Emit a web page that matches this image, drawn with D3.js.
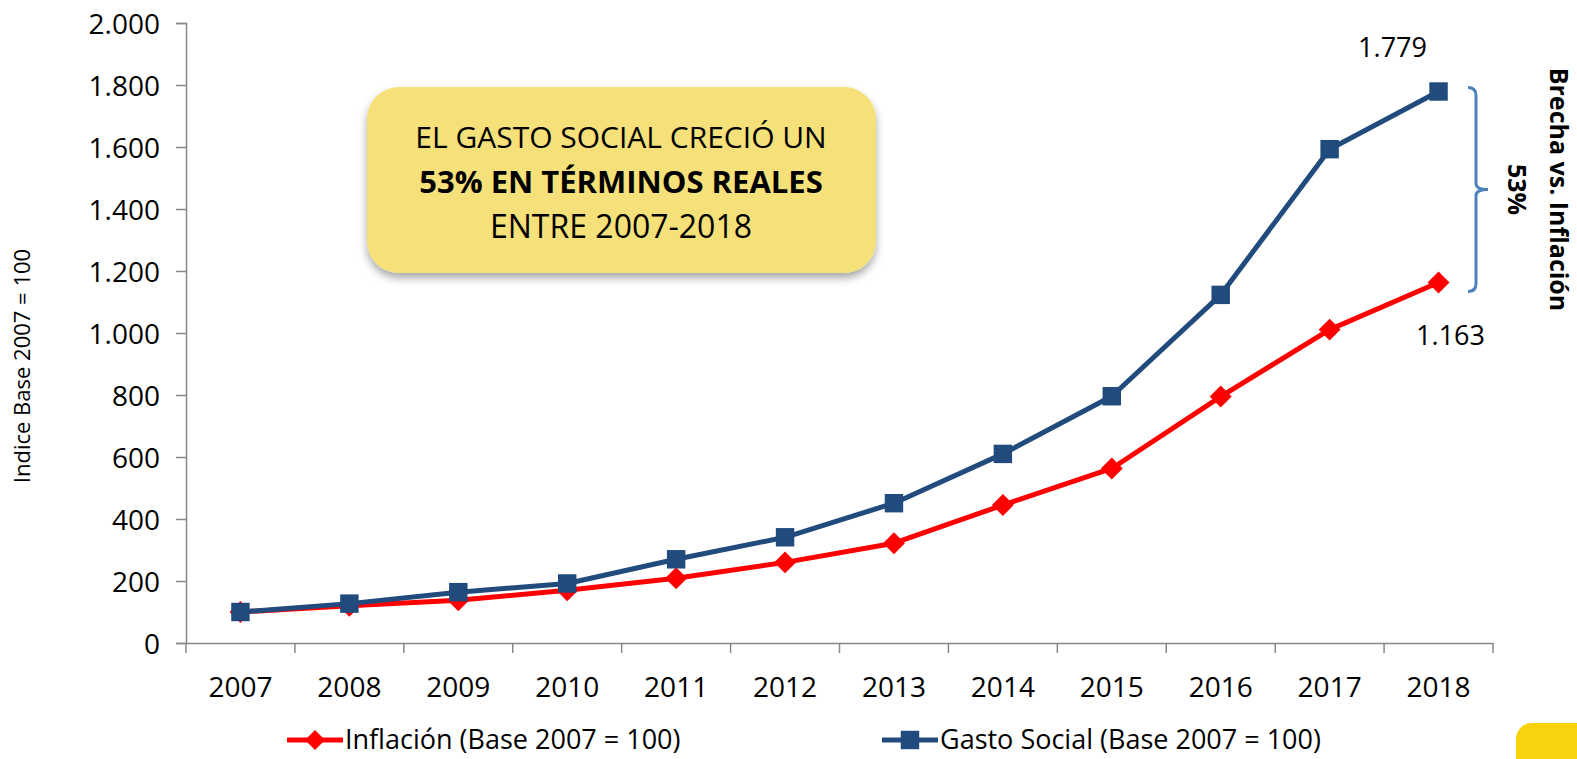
<!DOCTYPE html>
<html>
<head>
<meta charset="utf-8">
<script src="https://cdn.jsdelivr.net/npm/d3@7"></script>
<style>
  body { margin: 0; background: #fff; }
  svg text { font-family: "Open Sans", "Liberation Sans", sans-serif; fill: #000; }
</style>
</head>
<body>
<div class="canvas"></div>
<script>
const years = ['2007', '2008', '2009', '2010', '2011', '2012', '2013', '2014', '2015', '2016', '2017', '2018'];
const inflacion = [100, 120, 138, 170, 209, 260, 322, 445, 563, 795, 1011, 1163];
const gastoSocial = [100, 127, 164, 192, 270, 341, 451, 610, 796, 1123, 1593, 1779];
const yTicks = [0, 200, 400, 600, 800, 1000, 1200, 1400, 1600, 1800, 2000];
const seriesNames = ['Inflación (Base 2007 = 100)', 'Gasto Social (Base 2007 = 100)'];

const dims = { width: 1577, height: 759 };
const plot = { left: 186, right: 1493, top: 23, bottom: 643 };

const svg = d3.select('.canvas')
  .append('svg')
  .attr('width', dims.width)
  .attr('height', dims.height);

const defs = svg.append('defs');
const shadow = defs.append('filter').attr('id', 'shadow')
  .attr('x', '-10%').attr('y', '-10%').attr('width', '130%').attr('height', '140%');
shadow.append('feDropShadow')
  .attr('dx', 0).attr('dy', 5).attr('stdDeviation', 4)
  .attr('flood-color', '#000').attr('flood-opacity', 0.35);

const x = d3.scaleBand().domain(years).range([plot.left, plot.right]);
const y = d3.scaleLinear().domain([0, 2000]).range([plot.bottom, plot.top]);
const fmt = d3.formatLocale({ decimal: ',', thousands: '.', grouping: [3], currency: ['', ''] }).format(',.0f');

// axes
const yAxis = svg.append('g')
  .attr('transform', `translate(${plot.left},0)`)
  .call(d3.axisLeft(y).tickValues(yTicks).tickFormat(fmt).tickSize(10).tickPadding(16));
yAxis.selectAll('text').style('font-size', '28px').attr('dy', '0.36em');

const xAxis = svg.append('g')
  .attr('transform', `translate(0,${plot.bottom})`)
  .call(d3.axisBottom(x).tickSize(0).tickPadding(34));
xAxis.selectAll('text').style('font-size', '28px');
// category boundary ticks
xAxis.selectAll('.bound')
  .data(d3.range(years.length + 1))
  .enter().append('line')
  .attr('class', 'bound')
  .attr('x1', i => plot.left + i * x.bandwidth())
  .attr('x2', i => plot.left + i * x.bandwidth())
  .attr('y1', 0).attr('y2', 10);

svg.selectAll('.domain').attr('stroke', '#888').attr('stroke-width', 1.5);
svg.selectAll('line').attr('stroke', '#888').attr('stroke-width', 1.5);

// y label
svg.append('text')
  .attr('transform', 'translate(30,366) rotate(-90)')
  .attr('text-anchor', 'middle')
  .style('font-size', '22px')
  .text('Indice Base 2007 = 100');

// lines
const cx = d => x(d) + x.bandwidth() / 2;
const line = d3.line().x(d => cx(d.year)).y(d => y(d.v));

const series = [
  { name: seriesNames[0], color: '#ff0000', marker: 'diamond', values: inflacion },
  { name: seriesNames[1], color: '#214a7d', marker: 'square', values: gastoSocial }
];

const symbolFor = size => d3.symbol().type(d3.symbolSquare).size(size)();

series.forEach(s => {
  const pts = s.values.map((v, i) => ({ year: years[i], v }));
  svg.append('path')
    .datum(pts)
    .attr('fill', 'none')
    .attr('stroke', s.color)
    .attr('stroke-width', 5)
    .attr('stroke-linejoin', 'round')
    .attr('d', line);
  svg.selectAll(null)
    .data(pts)
    .enter().append('path')
    .attr('fill', s.color)
    .attr('d', s.marker === 'diamond' ? symbolFor(240) : symbolFor(340))
    .attr('transform', d => `translate(${cx(d.year)},${y(d.v)})${s.marker === 'diamond' ? ' rotate(45)' : ''}`);
});

// end labels
const last = years.length - 1;
svg.append('text')
  .attr('x', cx(years[last]) - 46).attr('y', y(gastoSocial[last]) - 35)
  .attr('text-anchor', 'middle').style('font-size', '27px')
  .text(fmt(gastoSocial[last]));
svg.append('text')
  .attr('x', cx(years[last]) + 12).attr('y', y(inflacion[last]) + 63)
  .attr('text-anchor', 'middle').style('font-size', '27px')
  .text(fmt(inflacion[last]));

// bracket
const bTop = y(gastoSocial[last]) - 4;
const bBot = y(inflacion[last]) + 9;
const bMid = (bTop + bBot) / 2;
const bx = 1468;
svg.append('path')
  .attr('fill', 'none')
  .attr('stroke', '#4f81bd')
  .attr('stroke-width', 3)
  .attr('d', `M${bx},${bTop} Q${bx + 8},${bTop} ${bx + 8},${bTop + 8} L${bx + 8},${bMid - 6} Q${bx + 8},${bMid} ${bx + 20},${bMid} Q${bx + 8},${bMid} ${bx + 8},${bMid + 6} L${bx + 8},${bBot - 8} Q${bx + 8},${bBot} ${bx},${bBot}`);

svg.append('text')
  .attr('transform', `translate(1550,${bMid}) rotate(90)`)
  .attr('text-anchor', 'middle')
  .style('font-size', '25px').style('font-weight', 'bold')
  .text('Brecha vs. Inflación');
svg.append('text')
  .attr('transform', `translate(1508,${bMid}) rotate(90)`)
  .attr('text-anchor', 'middle')
  .style('font-size', '25px').style('font-weight', 'bold')
  .text('53%');

// callout box
const box = svg.append('g');
box.append('rect')
  .attr('x', 367).attr('y', 87).attr('width', 509).attr('height', 186)
  .attr('rx', 32).attr('ry', 32)
  .attr('fill', '#f5e07a')
  .attr('filter', 'url(#shadow)');
const boxText = box.append('text').attr('text-anchor', 'middle').style('font-size', '30px');
boxText.append('tspan').attr('x', 621).attr('y', 148).text('EL GASTO SOCIAL CRECIÓ UN');
boxText.append('tspan').attr('x', 621).attr('y', 193).style('font-weight', 'bold').style('font-size', '31px').text('53% EN TÉRMINOS REALES');
boxText.append('tspan').attr('x', 621).attr('y', 238).style('font-size', '32px').text('ENTRE 2007-2018');

// legend
const legendX = [287, 882];
series.forEach((s, i) => {
  const g = svg.append('g').attr('transform', `translate(${legendX[i]},740)`);
  g.append('line').attr('x1', 0).attr('x2', 56).attr('stroke', s.color).attr('stroke-width', 5);
  g.append('path')
    .attr('fill', s.color)
    .attr('d', s.marker === 'diamond' ? symbolFor(200) : symbolFor(340))
    .attr('transform', `translate(28,0)${s.marker === 'diamond' ? ' rotate(45)' : ''}`);
  g.append('text').attr('x', 58).attr('dy', '0.35em').style('font-size', '27px').text(s.name);
});

// yellow corner
svg.append('rect')
  .attr('x', 1516).attr('y', 723).attr('width', 90).attr('height', 80)
  .attr('rx', 16).attr('fill', '#f8d20c');
</script>
</body>
</html>
